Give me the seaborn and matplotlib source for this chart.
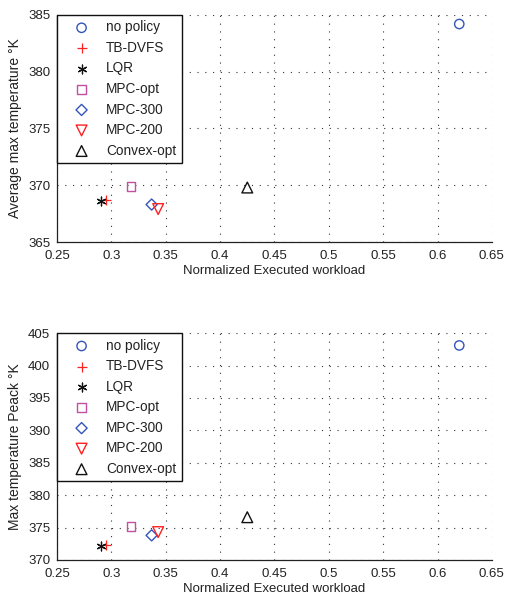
import numpy as np
import pandas as pd
import seaborn as sns
import matplotlib.pyplot as plt
from matplotlib.ticker import MultipleLocator, AutoMinorLocator

# policies and their results
policies = ['no policy', 'TB-DVFS', 'LQR', 'MPC-opt', 'MPC-300', 'MPC-200', 'Convex-opt']
workload = [0.620, 0.295, 0.290, 0.318, 0.337, 0.343, 0.425]
avg_max_temp = [384.2, 368.7, 368.6, 369.9, 368.3, 367.9, 369.8]
peak_temp = [403.1, 372.3, 372.2, 375.2, 373.8, 374.3, 376.6]

colors = ['#3355bb', '#ff2020', '#111111', '#c050a0', '#3355bb', '#ff2020', '#111111']
markers = ['o', '+', (6, 2, 0), 's', 'D', 'v', '^']
sizes = [45, 60, 40, 40, 32, 60, 60]
filled_like = [False, True, True, False, False, False, False]

sns.set_style('white')
plt.rcParams['font.family'] = ['Liberation Sans', 'DejaVu Sans']
plt.rcParams['font.size'] = 9.5
plt.rcParams['text.color'] = '#222222'
plt.rcParams['axes.labelcolor'] = '#222222'
plt.rcParams['xtick.color'] = '#222222'
plt.rcParams['ytick.color'] = '#222222'

df = pd.DataFrame({'policy': policies, 'workload': workload,
                   'avg': avg_max_temp, 'peak': peak_temp})

fig = plt.figure(figsize=(5.05, 5.97), dpi=100)
ax1 = fig.add_axes([0.113, 0.5946, 0.861, 0.3804])
ax2 = fig.add_axes([0.113, 0.062, 0.861, 0.380])


def draw(ax, col, ylim, ystep, ylabel):
    for i, p in enumerate(policies):
        sub = df[df['policy'] == p]
        if filled_like[i]:
            sns.scatterplot(data=sub, x='workload', y=col, ax=ax, marker=markers[i],
                            color=colors[i], s=sizes[i], linewidth=0.9, label=p)
        else:
            sns.scatterplot(data=sub, x='workload', y=col, ax=ax, marker=markers[i],
                            facecolor='none', edgecolor=colors[i], s=sizes[i],
                            linewidth=1.0, label=p)
    ax.set_xlim(0.25, 0.65)
    ax.set_ylim(*ylim)
    ax.xaxis.set_major_locator(MultipleLocator(0.05))
    ax.yaxis.set_major_locator(MultipleLocator(ystep))
    ax.xaxis.set_minor_locator(AutoMinorLocator(5))
    ax.yaxis.set_minor_locator(AutoMinorLocator(5))
    ax.set_xticklabels([f'{v:g}' for v in ax.get_xticks()])
    ax.tick_params(which='major', direction='in', length=4, width=0.8, labelsize=9.5)
    ax.tick_params(axis='x', which='major', pad=6)
    ax.tick_params(axis='y', which='major', pad=5)
    ax.tick_params(which='minor', direction='in', length=2, width=0.6)
    ax.grid(True, which='major', linestyle=(0, (1, 6)), color='#333333', linewidth=0.8)
    for s in ['top', 'right']:
        ax.spines[s].set_visible(False)
    for s in ['left', 'bottom']:
        ax.spines[s].set_color('#222222')
        ax.spines[s].set_linewidth(0.9)
    ax.set_xlabel('Normalized Executed workload', fontsize=9.5, labelpad=2)
    ax.set_ylabel(ylabel, fontsize=10, labelpad=4)
    leg = ax.legend(loc='upper left', borderaxespad=0, fancybox=False, framealpha=1,
                    edgecolor='#111111', handlelength=2.8, handletextpad=0.4,
                    labelspacing=0.48, borderpad=0.4, fontsize=9.8)
    leg.get_frame().set_linewidth(1.0)


draw(ax1, 'avg', (365, 385), 5, 'Average max temperature °K')
draw(ax2, 'peak', (370, 405), 5, 'Max temperature Peack °K')

fig.savefig('out.png', dpi=100)
